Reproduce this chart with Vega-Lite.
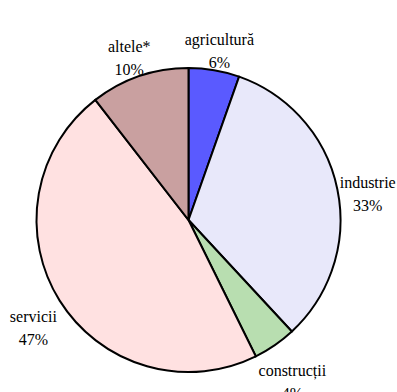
{
  "$schema": "https://vega.github.io/schema/vega-lite/v6.json",
  "width": 377,
  "height": 440,
  "autosize": {"type": "none"},
  "padding": {"left": 0, "top": 0, "right": 20, "bottom": 0},
  "background": "white",
  "view": {"stroke": null},
  "data": {
    "values": [
      {"sector": "agricultură", "label": "agricultură\n6%", "value": 5.4, "ord": 1},
      {"sector": "industrie", "label": "industrie\n33%", "value": 32.7, "ord": 2},
      {"sector": "construcții", "label": "construcții\n4%", "value": 4.6, "ord": 3},
      {"sector": "servicii", "label": "servicii\n47%", "value": 46.8, "ord": 4},
      {"sector": "altele*", "label": "altele*\n10%", "value": 10.5, "ord": 5}
    ]
  },
  "encoding": {
    "theta": {"field": "value", "type": "quantitative", "stack": true},
    "order": {"field": "ord", "type": "quantitative"}
  },
  "layer": [
    {
      "mark": {"type": "arc", "outerRadius": 152, "stroke": "black", "strokeWidth": 2},
      "encoding": {
        "color": {
          "field": "sector",
          "type": "nominal",
          "scale": {
            "domain": ["agricultură", "industrie", "construcții", "servicii", "altele*"],
            "range": ["#5A5AFF", "#E8E8FA", "#B8DEB0", "#FFE1E1", "#C9A0A0"]
          },
          "legend": null
        }
      }
    },
    {
      "mark": {
        "type": "text",
        "radius": 183,
        "font": "Liberation Serif",
        "fontSize": 16,
        "lineHeight": 23,
        "lineBreak": "\n",
        "align": "center",
        "baseline": "middle",
        "fill": "black"
      },
      "encoding": {
        "text": {"field": "label", "type": "nominal"}
      }
    }
  ]
}
